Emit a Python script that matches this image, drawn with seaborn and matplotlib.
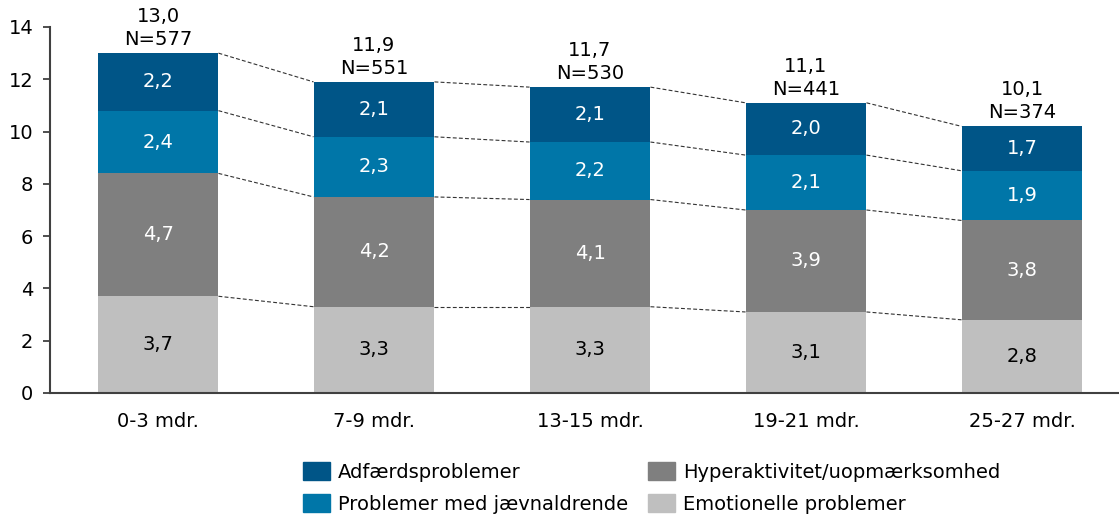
import numpy as np
import matplotlib
matplotlib.use("Agg")
import matplotlib.pyplot as plt
import seaborn as sns
from matplotlib.patches import Patch

sns.set_style("white")
plt.rcParams['font.family'] = ['DejaVu Sans']
plt.rcParams['text.color'] = 'black'
plt.rcParams['xtick.color'] = 'black'
plt.rcParams['ytick.color'] = 'black'

# data
periods = ['0-3 mdr.', '7-9 mdr.', '13-15 mdr.', '19-21 mdr.', '25-27 mdr.']
emotionelle = [3.7, 3.3, 3.3, 3.1, 2.8]
hyperaktivitet = [4.7, 4.2, 4.1, 3.9, 3.8]
jaevnaldrende = [2.4, 2.3, 2.2, 2.1, 1.9]
adfaerd = [2.2, 2.1, 2.1, 2.0, 1.7]
totals = [13.0, 11.9, 11.7, 11.1, 10.1]
n_counts = [577, 551, 530, 441, 374]

layers = [
    ('Emotionelle problemer', emotionelle, '#BFBFBF', 'black'),
    ('Hyperaktivitet/uopmærksomhed', hyperaktivitet, '#7F7F7F', 'white'),
    ('Problemer med jævnaldrende', jaevnaldrende, '#0076A8', 'white'),
    ('Adfærdsproblemer', adfaerd, '#005587', 'white'),
]

FS = 14

def fmt(v):
    return f"{v:.1f}".replace('.', ',')

fig = plt.figure(figsize=(11.19, 5.2), dpi=100)
ax = fig.add_axes([50 / 1119, 127 / 520, 1080 / 1119, 366 / 520])

bar_w = 0.56
bottom = np.zeros(len(periods))
bounds = []
for name, vals, col, tcol in layers:
    vals = np.array(vals)
    sns.barplot(x=periods, y=vals, color=col, width=bar_w, bottom=bottom,
                saturation=1, ax=ax, linewidth=0)
    for i, v in enumerate(vals):
        ax.text(i, bottom[i] + v / 2, fmt(v), ha='center', va='center',
                color=tcol, fontsize=FS)
    bottom = bottom + vals
    bounds.append(bottom.copy())

# dashed connectors between bars
for b in bounds:
    for i in range(len(periods) - 1):
        ax.plot([i + bar_w / 2, i + 1 - bar_w / 2], [b[i], b[i + 1]],
                ls=(0, (3.5, 2)), color='#333333', lw=0.8)

# totals and N above bars
for i, (t, n) in enumerate(zip(totals, n_counts)):
    ax.annotate(f"{fmt(t)}\nN={n}", (i, bounds[-1][i]), xytext=(0, 3),
                textcoords='offset points', ha='center', va='bottom',
                fontsize=FS, linespacing=1.25)

ax.set_xlim(-0.5, 4.5)
ax.set_ylim(0, 14)
ax.set_yticks(range(0, 15, 2))
ax.set_xticks(np.arange(-0.5, 4.6, 1), minor=True)
ax.tick_params(axis='x', which='major', length=0, pad=14, labelsize=FS)
ax.tick_params(axis='x', which='minor', length=5, width=1.3, direction='out',
               color='#404040')
ax.tick_params(axis='y', length=5, width=1.3, direction='out', pad=7,
               labelsize=FS, color='#404040', left=True)
ax.set_xlabel('')
ax.set_ylabel('')
for s in ['top', 'right']:
    ax.spines[s].set_visible(False)
for s in ['left', 'bottom']:
    ax.spines[s].set_color('#404040')
    ax.spines[s].set_linewidth(1.5)

handles = [Patch(color=layers[3][2], label=layers[3][0]),
           Patch(color=layers[2][2], label=layers[2][0]),
           Patch(color=layers[1][2], label=layers[1][0]),
           Patch(color=layers[0][2], label=layers[0][0])]
fig.legend(handles=handles, ncol=2, loc='upper left',
           bbox_to_anchor=(303 / 1119, 1 - 462 / 520), frameon=False,
           fontsize=FS, handlelength=1.39, handleheight=1.08,
           handletextpad=0.41, columnspacing=1.03, labelspacing=0.62,
           borderpad=0, borderaxespad=0)

fig.savefig('out.png', dpi=100)
